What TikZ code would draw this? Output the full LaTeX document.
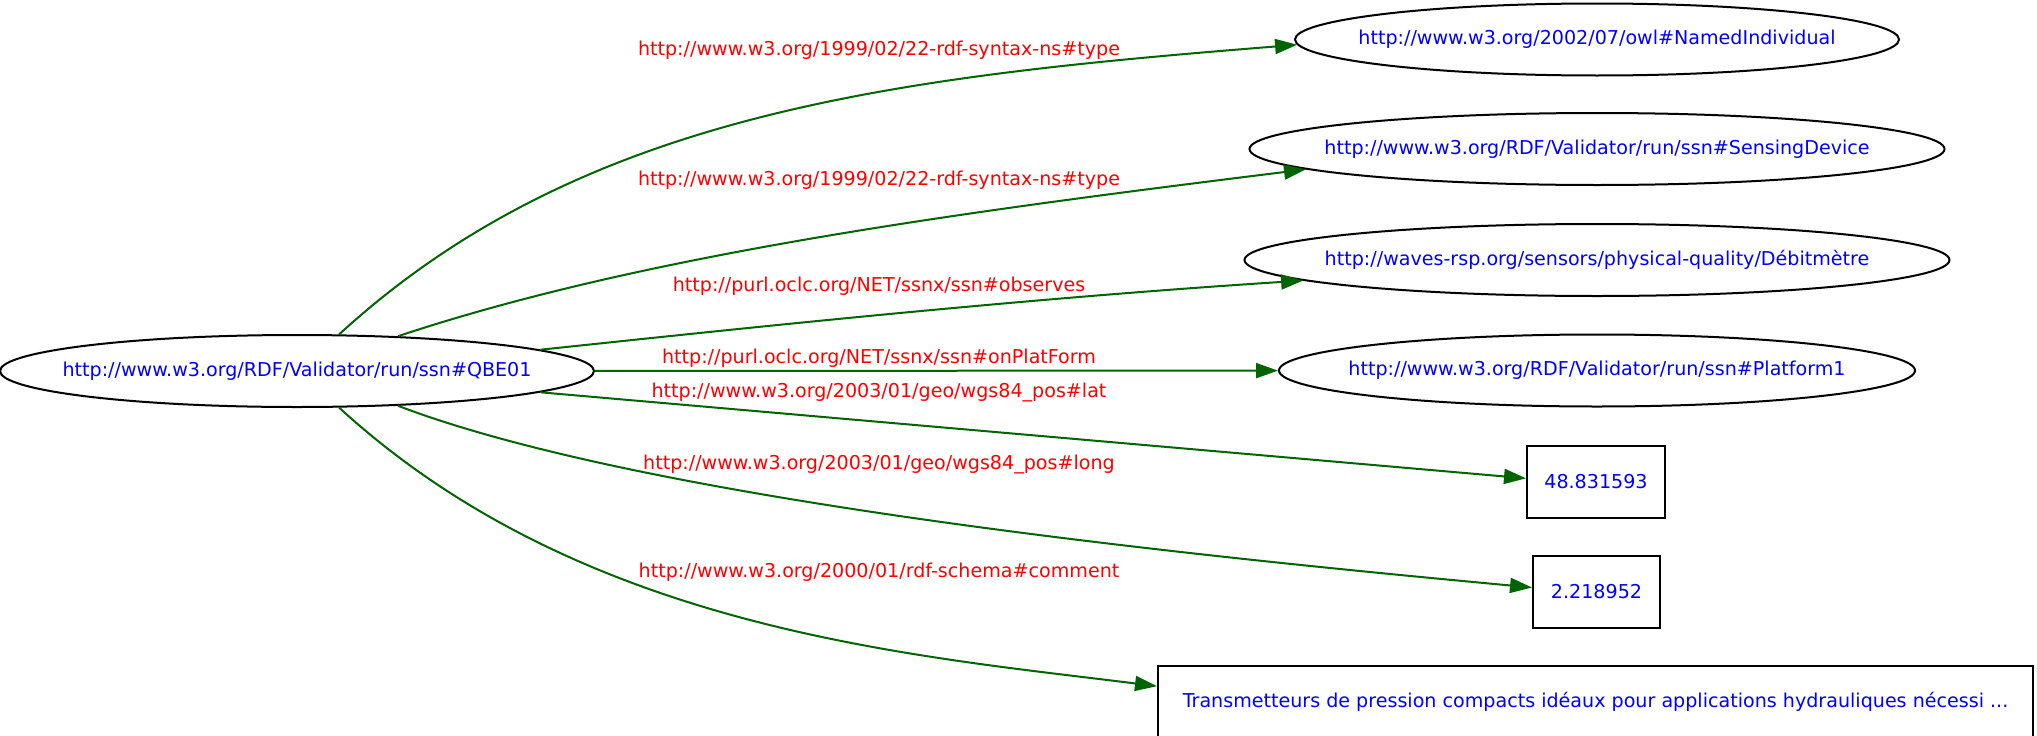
\documentclass[tikz,border=0pt]{standalone}
\usepackage{fontspec}
\setmainfont{DejaVu Sans}
\usepackage{xcolor}
\usepackage{tikz}
\usetikzlibrary{shapes.geometric,arrows.meta}
\definecolor{rdf-green}{RGB}{0,100,0}
\definecolor{rdf-blue}{RGB}{0,0,255}
\definecolor{rdf-red}{RGB}{255,0,0}
\newcommand{\urifont}{\fontsize{19.1}{23}\selectfont}
\newcommand{\predfont}{\fontsize{19.1}{23}\selectfont}
\newcommand{\rdftext}[1]{\makebox[0pt]{#1}}
\tikzstyle{e}=[draw=rdf-green,line width=2pt,arrows={-Triangle[length=22pt,width=15pt,rdf-green]}]
\tikzstyle{n}=[draw=black,line width=2pt,inner sep=0pt,text=rdf-blue,font=\urifont,minimum height=72pt]
\tikzstyle{n ellipse}=[n,ellipse]
\tikzstyle{n literal}=[n,rectangle]
\tikzstyle{p}=[text=rdf-red,font=\predfont,inner sep=0pt]

\begin{document}
\begin{tikzpicture}[x=1pt,y=-1pt]
    \useasboundingbox (0,0) rectangle (2037,736);

    \node[n ellipse,minimum width=594pt] (qbe) at (297,371) {\rdftext{http://www.w3.org/RDF/Validator/run/ssn\#QBE01}};

    \node[n ellipse,minimum width=604pt] (named) at (1597,39.5) {\rdftext{http://www.w3.org/2002/07/owl\#NamedIndividual}};
    \node[n ellipse,minimum width=695pt] (sensing) at (1597,149) {\rdftext{http://www.w3.org/RDF/Validator/run/ssn\#SensingDevice}};
    \node[n ellipse,minimum width=705pt] (debit) at (1597,260) {\rdftext{http://waves-rsp.org/sensors/physical-quality/Débitmètre}};
    \node[n ellipse,minimum width=636pt] (platform) at (1597,370.5) {\rdftext{http://www.w3.org/RDF/Validator/run/ssn\#Platform1}};
    \node[n literal,minimum width=138pt] (lat) at (1596,482) {\rdftext{48.831593}};
    \node[n literal,minimum width=127pt] (long) at (1596.5,592) {\rdftext{2.218952}};
    \node[n literal,minimum width=875pt] (comment) at (1595.5,701.5) {\rdftext{Transmetteurs de pression compacts idéaux pour applications hydrauliques nécessi ...}};

    \node[p] (type-a)   at (879,50)    {http://www.w3.org/1999/02/22-rdf-syntax-ns\#type};
    \node[p] (type-b)   at (879,180)   {http://www.w3.org/1999/02/22-rdf-syntax-ns\#type};
    \node[p] (observes) at (879,286.5) {http://purl.oclc.org/NET/ssnx/ssn\#observes};
    \node[p] (onplat)   at (879,358)   {http://purl.oclc.org/NET/ssnx/ssn\#onPlatForm};
    \node[p] (geo-lat)  at (879,392)   {http://www.w3.org/2003/01/geo/wgs84\_pos\#lat};
    \node[p] (geo-long) at (879,464)   {http://www.w3.org/2003/01/geo/wgs84\_pos\#long};
    \node[p] (rdfs-com) at (879,572)   {http://www.w3.org/2000/01/rdf-schema\#comment};

    \draw[e] (qbe.41) .. controls (582,112) and (895,77) .. (named.181);
    \draw[e] (qbe.19) .. controls (645,254) and (962,212) .. (sensing.184);
    \draw[e] (qbe.5) .. controls (700,333) and (1000,300) .. (debit.184);
    \draw[e] (qbe) -- (platform);
    \draw[e] (qbe.-5) -- (lat.177);
    \draw[e] (qbe.-19) .. controls (645,500) and (1183,555) .. (long.176);
    \draw[e] (qbe.-41) .. controls (582,630) and (909,655) .. (comment.178.5);

\end{tikzpicture}
\end{document}
